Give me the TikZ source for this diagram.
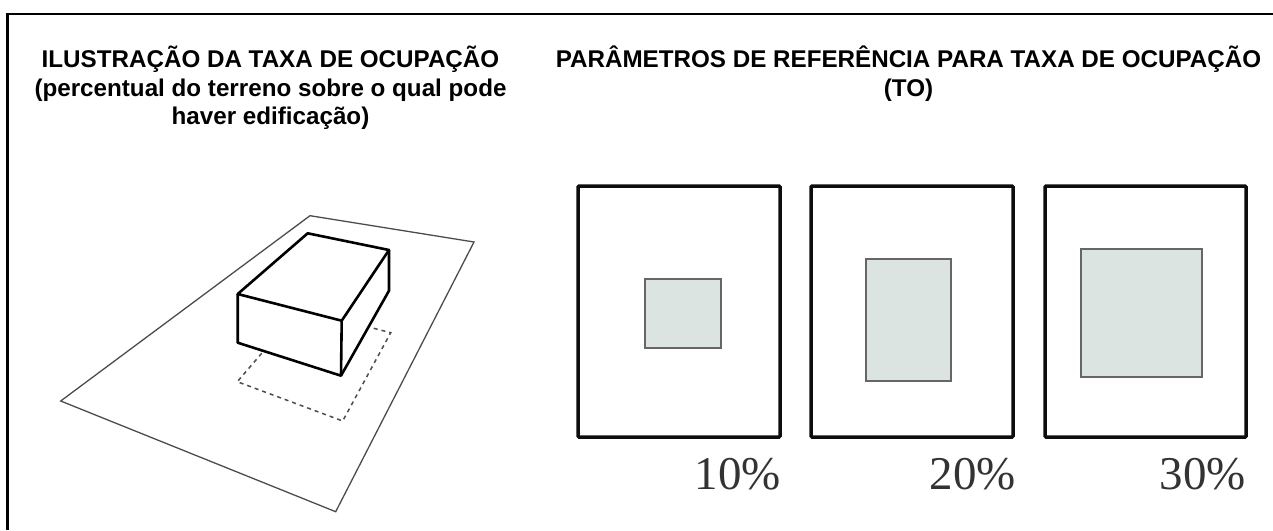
\documentclass[tikz,border=0pt]{standalone}
\usepackage{fontspec}
\setmainfont{Liberation Sans}
\newfontfamily\pctfont{Liberation Serif}
\definecolor{builtfill}{HTML}{DCE4E2}
\definecolor{builtedge}{HTML}{666666}
\definecolor{pctink}{HTML}{333333}
\tikzset{
  x=1pt, y=-1pt,
  frameline/.style={draw=black, line width=2.5pt},
  lotline/.style={draw=black!70, line width=1.3pt, line join=miter},
  boxline/.style={draw=black, line width=2.6pt, line join=round},
  footprint/.style={draw=black!70, line width=1.5pt, dash pattern=on 4pt off 4pt},
  plotline/.style={draw=black!95, line width=3.5pt, rounded corners=1pt},
  builtarea/.style={fill=builtfill, draw=builtedge, line width=1.4pt},
  heading/.style={font=\bfseries\fontsize{24.2}{28.4}\selectfont, align=center, inner sep=0pt, anchor=north},
  pctlabel/.style={font=\pctfont\fontsize{47}{47}\selectfont, text=pctink, inner sep=0pt, anchor=base east}
}
\begin{document}
\begin{tikzpicture}
\useasboundingbox (0,0) rectangle (1273,530);
% outer frame
\draw[frameline] (7.5,530) -- (7.5,14) -- (1273,14);
% headings
\node[heading] (leftTitle) at (270.5,46) {ILUSTRAÇÃO DA TAXA DE OCUPAÇÃO\\(percentual do terreno sobre o qual pode\\haver edificação)};
\node[heading] (rightTitle) at (908.5,46) {PARÂMETROS DE REFERÊNCIA PARA TAXA DE OCUPAÇÃO\\(TO)};
% plot of land in perspective
\draw[lotline] (310,215.7) -- (474,242) -- (335.7,511.7) -- (60.7,401) -- cycle;
% ground footprint, hidden part under the volume left out
\draw[footprint] (261.7,353.3) -- (237.3,381.7) -- (342.7,421) -- (390.7,332.7) -- (370,327.3);
% building volume
\draw[boxline] (237.7,294) -- (307.7,233.3) -- (389,250) -- (341.7,320.7) -- cycle;
\draw[boxline] (237.7,294) -- (237.7,342.7) -- (341,375.7) -- (389,290.7) -- (389,250);
\draw[boxline] (341.7,320.7) -- (341,375.7);
% reference plots
\draw[plotline] (578,186) rectangle (780,437);
\draw[plotline] (811,186) rectangle (1013,437);
\draw[plotline] (1045,186) rectangle (1246,437);
\draw[builtarea] (645,279) rectangle (721,348);
\draw[builtarea] (866,259) rectangle (951,381);
\draw[builtarea] (1081,249) rectangle (1202,377);
\node[pctlabel] (p10) at (781,489) {10\%};
\node[pctlabel] (p20) at (1016,489) {20\%};
\node[pctlabel] (p30) at (1246,489) {30\%};
\end{tikzpicture}
\end{document}
